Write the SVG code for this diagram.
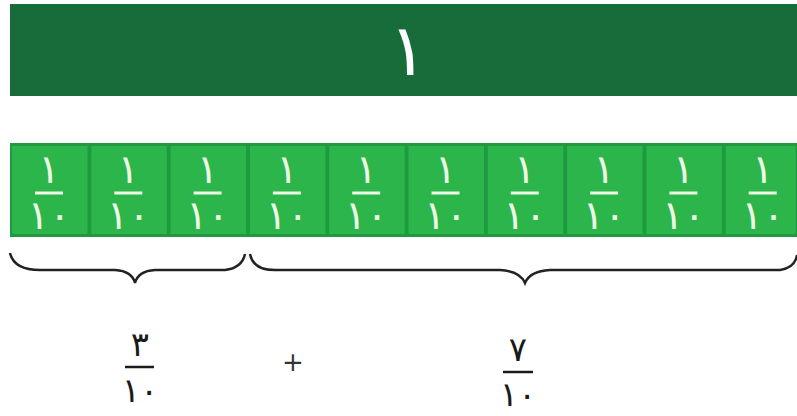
<svg xmlns="http://www.w3.org/2000/svg" width="797" height="416" viewBox="0 0 797 416">
<style>
.cell{fill:#2cb54a}
.ct{font-family:"DejaVu Sans",sans-serif;font-size:40px;fill:#eefae6;text-anchor:middle}
.cl{stroke:#eefae6;stroke-width:3}
.bt{font-family:"DejaVu Sans",sans-serif;font-size:34px;fill:#1a1a1a;text-anchor:middle}
.bl{stroke:#1a1a1a;stroke-width:2.5}
.brace{fill:none;stroke:#222;stroke-width:2.5}
</style>
<defs>
<g id="frac">
<text class="ct" x="0" y="183">١</text>
<line class="cl" x1="-14" y1="193" x2="14" y2="193"/>
<text class="ct" x="0" y="229">١٠</text>
</g>
</defs>
<rect width="797" height="416" fill="#ffffff"/>
<g id="whole">
<rect x="10" y="4" width="787" height="92" fill="#176c3a"/>
<text x="408" y="75" font-family="DejaVu Sans,sans-serif" font-size="72" fill="#ffffff" text-anchor="middle">١</text>
</g>
<g id="tenths">
<rect x="10" y="143" width="787" height="94" fill="#1f9a3e"/>
<rect class="cell" x="12" y="146" width="75.5" height="88"/>
<rect class="cell" x="91.3" y="146" width="75.5" height="88"/>
<rect class="cell" x="170.6" y="146" width="75.5" height="88"/>
<rect class="cell" x="249.9" y="146" width="75.5" height="88"/>
<rect class="cell" x="329.2" y="146" width="75.5" height="88"/>
<rect class="cell" x="408.5" y="146" width="75.5" height="88"/>
<rect class="cell" x="487.8" y="146" width="75.5" height="88"/>
<rect class="cell" x="567.1" y="146" width="75.5" height="88"/>
<rect class="cell" x="646.4" y="146" width="75.5" height="88"/>
<rect class="cell" x="725.7" y="146" width="70" height="88"/>
<use href="#frac" x="49"/>
<use href="#frac" x="128.3"/>
<use href="#frac" x="207.6"/>
<use href="#frac" x="286.9"/>
<use href="#frac" x="366.2"/>
<use href="#frac" x="445.5"/>
<use href="#frac" x="524.8"/>
<use href="#frac" x="604.1"/>
<use href="#frac" x="683.4"/>
<use href="#frac" x="762.7"/>
</g>
<g id="connectors">
<path class="brace" d="M10,253 Q14,270 40,270 L115,270 Q132,271 135,283 Q138,271 155,270 L225,270 Q242,268 245,254"/>
<path class="brace" d="M250,254 Q253,270 275,270 L500,270 Q520,271 525,283 Q530,271 550,270 L780,270 Q795,268 797,255"/>
</g>
<g id="label-3-10">
<text class="bt" x="140" y="356">٣</text>
<line class="bl" x1="125" y1="367" x2="154" y2="367"/>
<text class="bt" x="140" y="402">١٠</text>
</g>
<g id="plus">
<text x="293" y="371" font-family="DejaVu Sans,sans-serif" font-size="26" fill="#333" text-anchor="middle">+</text>
</g>
<g id="label-7-10">
<text class="bt" x="518" y="361">٧</text>
<line class="bl" x1="503" y1="372" x2="533" y2="372"/>
<text class="bt" x="518" y="406">١٠</text>
</g>
</svg>
